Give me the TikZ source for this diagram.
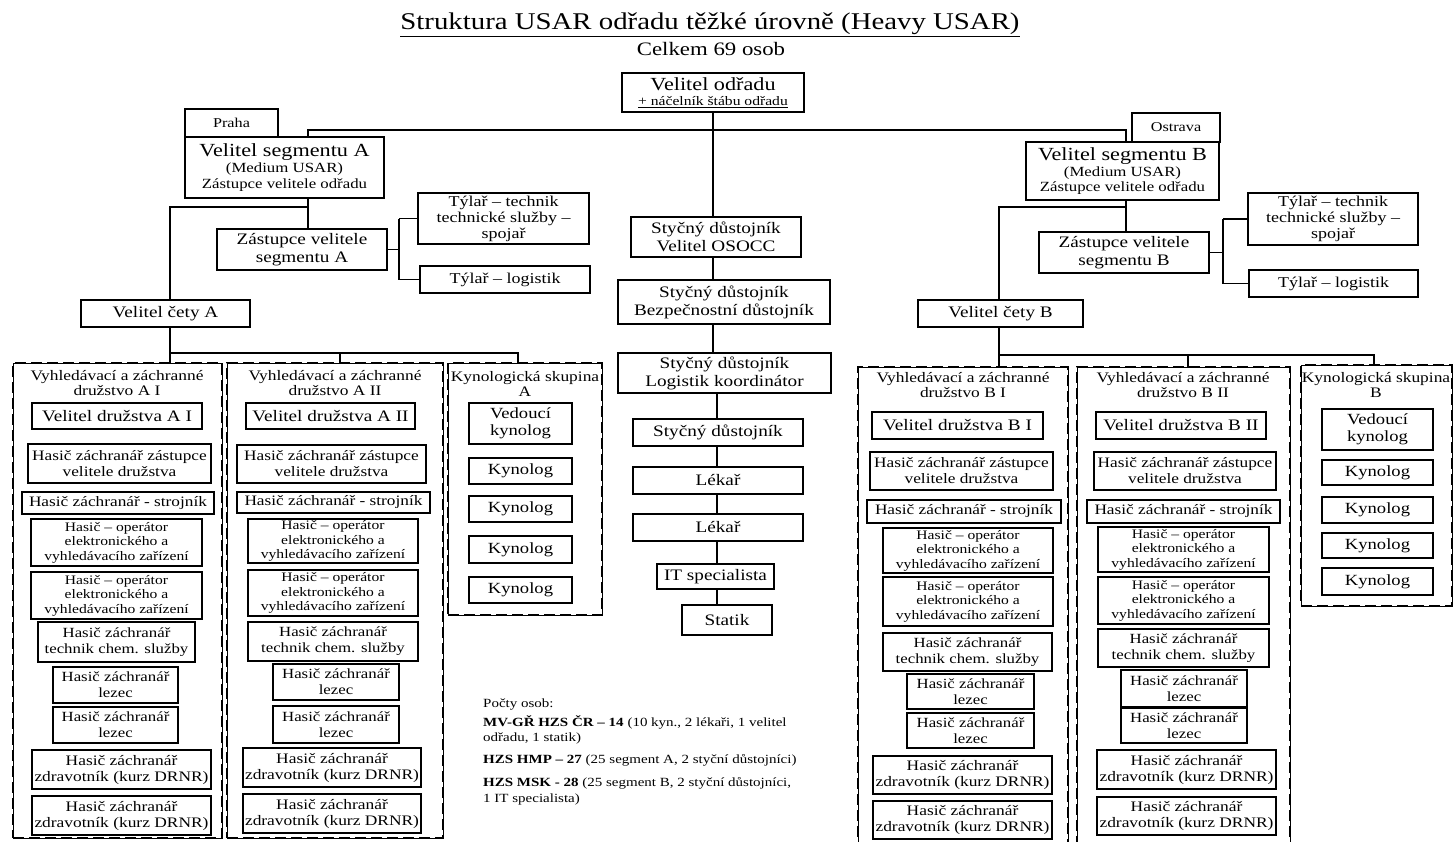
\documentclass[tikz,border=0pt]{standalone}
\usepackage{fontspec}
\setmainfont{Liberation Serif}[FakeStretch=1.2]
\newcommand{\myfs}[2]{\fontsize{#1}{#2}\selectfont}
\newcommand{\tZs}{Hasič záchranář zástupce\\velitele družstva}
\newcommand{\tSt}{Hasič záchranář - strojník}
\newcommand{\tOp}{Hasič – operátor\\elektronického a\\vyhledávacího zařízení}
\newcommand{\tTc}{Hasič záchranář\\technik chem. služby}
\newcommand{\tLz}{Hasič záchranář\\lezec}
\newcommand{\tZd}{Hasič záchranář\\zdravotník (kurz DRNR)}
% box by corners: style, x1, y1, x2, y2, name
\newcommand{\bx}[6]{\node[#1, minimum width={#4pt-#2pt}, minimum height={#5pt-#3pt}] (#6) at ({(#2+#4)/2},{(#3+#5)/2})}
\begin{document}
\begin{tikzpicture}[x=1pt,y=-1pt,
  box/.style={draw, line width=1.4pt, inner sep=0pt, outer sep=0pt, align=center},
  grp/.style={draw, line width=0.6pt, inner sep=0pt, outer sep=0pt,
    postaction={draw, line width=2.2pt, dash pattern=on 11pt off 5pt}},
  conn/.style={line width=1.7pt},
  lbl/.style={inner sep=0pt, align=center},
  sVd/.style={box, font=\myfs{16}{17}},
  sZs/.style={box, font=\myfs{14.4}{16}},
  sSt/.style={box, font=\myfs{14.4}{16}},
  sOp/.style={box, font=\myfs{13}{14.5}},
  sTc/.style={box, font=\myfs{14}{16}},
  sLz/.style={box, font=\myfs{14}{16}},
  sZd/.style={box, font=\myfs{14.5}{16}},
  sKy/.style={box, font=\myfs{15.5}{17}},
  sCt/.style={box, font=\myfs{16}{18}},
  sTy/.style={box, font=\myfs{15}{16}},
  sSm/.style={box, font=\myfs{13.5}{15}},
  sHdr/.style={lbl, font=\myfs{14.5}{15.5}},
  sLg/.style={anchor=base west, inner sep=0pt, font=\myfs{12.5}{15}}]
\fill[white] (0,0) rectangle (1453,841);
\useasboundingbox (0,0) rectangle (1453,841);

% title
\node[lbl, font=\myfs{24}{26}] (title) at (710,25) {\underline{Struktura USAR odřadu těžké úrovně (Heavy USAR)}};
\node[lbl, font=\myfs{19}{21}] (total) at (711,49) {Celkem 69 osob};

% top
\bx{box}{622}{73}{804}{112}{vo} {\myfs{18.5}{19}Velitel odřadu\\[3pt]\myfs{13}{13}\underline{+ náčelník štábu odřadu}};
\bx{sSm}{185}{109}{278}{137}{praha} {Praha};
\bx{box}{185}{137}{384}{198}{vsA} {\myfs{18.5}{19}Velitel segmentu A\\[1.5pt]\myfs{14}{15}(Medium USAR)\\[1.5pt]\myfs{14}{15}Zástupce velitele odřadu};
\bx{sSm}{1132}{113}{1220}{142}{ostrava} {Ostrava};
\bx{box}{1026}{142}{1219}{200}{vsB} {\myfs{18.5}{19}Velitel segmentu B\\[1.5pt]\myfs{14}{15}(Medium USAR)\\[1.5pt]\myfs{14}{15}Zástupce velitele odřadu};

% segment A staff
\bx{sCt}{217}{229}{387}{270}{zvA} {Zástupce velitele\\segmentu A};
\bx{sTy}{418}{193}{589}{244}{tyA1} {Týlař – technik\\technické služby –\\spojař};
\bx{sTy}{420}{266}{590}{293}{tyA2} {Týlař – logistik};
\bx{sVd}{81}{300}{250}{327}{vcA} {Velitel čety A};

% segment B staff
\bx{sCt}{1039}{232}{1209}{273}{zvB} {Zástupce velitele\\segmentu B};
\bx{sTy}{1248}{193}{1418}{245}{tyB1} {Týlař – technik\\technické služby –\\spojař};
\bx{sTy}{1249}{270}{1418}{297}{tyB2} {Týlař – logistik};
\bx{sVd}{918}{300}{1083}{327}{vcB} {Velitel čety B};

% centre chain
\bx{sCt}{631}{217}{801}{257}{osocc} {Styčný důstojník\\Velitel OSOCC};
\bx{sCt}{618}{280}{830}{324}{bezp} {Styčný důstojník\\Bezpečnostní důstojník};
\bx{sCt}{618}{353}{831}{393}{logk} {Styčný důstojník\\Logistik koordinátor};
\bx{sCt}{633}{419}{803}{446}{styc} {Styčný důstojník};
\bx{sCt}{633}{467}{803}{494}{lek1} {Lékař};
\bx{sCt}{633}{514}{803}{541}{lek2} {Lékař};
\bx{sCt}{657}{564}{774}{589}{itsp} {IT specialista};
\bx{sCt}{682}{605}{772}{635}{statik} {Statik};

% group A I
\bx{grp}{13}{363}{222}{838}{gA1} {};
\node[sHdr] (hA1) at (117,383) {Vyhledávací a záchranné\\družstvo A I};
\bx{sVd}{32}{403}{202}{429}{vdA1} {Velitel družstva A I};
\bx{sZs}{28}{444}{211}{483}{zsA1} {\tZs};
\bx{sSt}{22}{492}{214}{514}{stA1} {\tSt};
\bx{sOp}{31}{519}{202}{566}{opA1a} {\tOp};
\bx{sOp}{31}{572}{202}{619}{opA1b} {\tOp};
\bx{sTc}{38}{622}{195}{662}{tcA1} {\tTc};
\bx{sLz}{53}{667}{178}{703}{lzA1a} {\tLz};
\bx{sLz}{53}{707}{178}{743}{lzA1b} {\tLz};
\bx{sZd}{32}{750}{211}{789}{zdA1a} {\tZd};
\bx{sZd}{32}{796}{211}{835}{zdA1b} {\tZd};

% group A II
\bx{grp}{227}{363}{443}{838}{gA2} {};
\node[sHdr] (hA2) at (335,383) {Vyhledávací a záchranné\\družstvo A II};
\bx{sVd}{246}{403}{415}{429}{vdA2} {Velitel družstva A II};
\bx{sZs}{237}{445}{426}{483}{zsA2} {\tZs};
\bx{sSt}{237}{492}{430}{513}{stA2} {\tSt};
\bx{sOp}{248}{519}{418}{563}{opA2a} {\tOp};
\bx{sOp}{248}{570}{418}{616}{opA2b} {\tOp};
\bx{sTc}{248}{622}{418}{661}{tcA2} {\tTc};
\bx{sLz}{273}{664}{399}{700}{lzA2a} {\tLz};
\bx{sLz}{273}{706}{399}{743}{lzA2b} {\tLz};
\bx{sZd}{243}{748}{421}{787}{zdA2a} {\tZd};
\bx{sZd}{243}{794}{421}{833}{zdA2b} {\tZd};

% kynology A
\bx{grp}{448}{363}{602}{615}{gKA} {};
\node[sHdr] (hKA) at (525,384) {Kynologická skupina\\A};
\bx{sKy}{469}{403}{572}{444}{vkA} {Vedoucí\\kynolog};
\bx{sKy}{469}{458}{572}{484}{kA1} {Kynolog};
\bx{sKy}{469}{496}{572}{522}{kA2} {Kynolog};
\bx{sKy}{469}{536}{572}{563}{kA3} {Kynolog};
\bx{sKy}{469}{577}{572}{603}{kA4} {Kynolog};

% group B I
\bx{grp}{858}{367}{1068}{848}{gB1} {};
\node[sHdr] (hB1) at (963,385) {Vyhledávací a záchranné\\družstvo B I};
\bx{sVd}{872}{412}{1043}{439}{vdB1} {Velitel družstva B I};
\bx{sZs}{870}{452}{1053}{490}{zsB1} {\tZs};
\bx{sSt}{867}{500}{1061}{523}{stB1} {\tSt};
\bx{sOp}{883}{528}{1053}{573}{opB1a} {\tOp};
\bx{sOp}{883}{577}{1053}{626}{opB1b} {\tOp};
\bx{sTc}{883}{633}{1052}{671}{tcB1} {\tTc};
\bx{sLz}{907}{674}{1034}{709}{lzB1a} {\tLz};
\bx{sLz}{907}{713}{1034}{748}{lzB1b} {\tLz};
\bx{sZd}{873}{756}{1052}{794}{zdB1a} {\tZd};
\bx{sZd}{873}{801}{1052}{839}{zdB1b} {\tZd};

% group B II
\bx{grp}{1077}{367}{1290}{848}{gB2} {};
\node[sHdr] (hB2) at (1183,385) {Vyhledávací a záchranné\\družstvo B II};
\bx{sVd}{1096}{412}{1266}{439}{vdB2} {Velitel družstva B II};
\bx{sZs}{1094}{452}{1276}{490}{zsB2} {\tZs};
\bx{sSt}{1087}{500}{1280}{523}{stB2} {\tSt};
\bx{sOp}{1098}{527}{1269}{572}{opB2a} {\tOp};
\bx{sOp}{1098}{577}{1269}{624}{opB2b} {\tOp};
\bx{sTc}{1098}{629}{1269}{667}{tcB2} {\tTc};
\bx{sLz}{1121}{670}{1247}{707}{lzB2a} {\tLz};
\bx{sLz}{1121}{708}{1247}{743}{lzB2b} {\tLz};
\bx{sZd}{1097}{750}{1276}{789}{zdB2a} {\tZd};
\bx{sZd}{1097}{797}{1276}{835}{zdB2b} {\tZd};

% kynology B
\bx{grp}{1301}{365}{1452}{606}{gKB} {};
\node[sHdr] (hKB) at (1376,385) {Kynologická skupina\\B};
\bx{sKy}{1322}{409}{1433}{450}{vkB} {Vedoucí\\kynolog};
\bx{sKy}{1322}{460}{1433}{485}{kB1} {Kynolog};
\bx{sKy}{1322}{497}{1433}{523}{kB2} {Kynolog};
\bx{sKy}{1322}{533}{1433}{558}{kB3} {Kynolog};
\bx{sKy}{1322}{568}{1433}{595}{kB4} {Kynolog};

% legend
\node[sLg] (lg0) at (483,707) {Počty osob:};
\node[sLg] (lg1) at (483,726) {\textbf{MV-GŘ HZS ČR – 14} (10 kyn., 2 lékaři, 1 velitel};
\node[sLg] (lg2) at (483,741) {odřadu, 1 statik)};
\node[sLg] (lg3) at (483,763) {\textbf{HZS HMP – 27} (25 segment A, 2 styční důstojníci)};
\node[sLg] (lg4) at (483,786) {\textbf{HZS MSK - 28} (25 segment B, 2 styční důstojníci,};
\node[sLg] (lg5) at (483,802) {1 IT specialista)};

% connector coordinates
\coordinate (topL) at (308,130);
\coordinate (topR) at (1126,130);
\coordinate (sA) at (308,207);
\coordinate (aL) at (170,207);
\coordinate (tA) at (399,0);
\coordinate (busA1) at (170,353);
\coordinate (busA2) at (340,353);
\coordinate (busA3) at (518,353);
\coordinate (sB) at (1126,207);
\coordinate (bL) at (999,207);
\coordinate (tB) at (1223,0);
\coordinate (busB1) at (999,355);
\coordinate (busB2) at (1188,355);
\coordinate (busB3) at (1374,355);
\coordinate (cx) at (717,0);

% connectors: top
\draw[conn] (vo.south) -- (vo.south |- osocc.north);
\draw[conn] (vsA.north -| topL) -- (topL) -- (topR) -- (vsB.north -| topR);
% segment A
\draw[conn] (vsA.south -| sA) -- (zvA.north -| sA);
\draw[conn] (sA) -- (aL) -- (vcA.north -| aL);
\draw[conn] (zvA.east) -- (zvA.east -| tA);
\draw[conn] (tyA1.west -| tA) -- (tyA2.west -| tA);
\draw[conn] (tyA1.west -| tA) -- (tyA1.west);
\draw[conn] (tyA2.west -| tA) -- (tyA2.west);
\draw[conn] (vcA.south -| busA1) -- (gA1.north -| busA1);
\draw[conn] (busA1) -- (busA3) -- (gKA.north -| busA3);
\draw[conn] (busA2) -- (gA2.north -| busA2);
% segment B
\draw[conn] (vsB.south -| sB) -- (zvB.north -| sB);
\draw[conn] (sB) -- (bL) -- (vcB.north -| bL);
\draw[conn] (zvB.east) -- (zvB.east -| tB);
\draw[conn] (tyB1.west -| tB) -- (tyB2.west -| tB);
\draw[conn] (tyB1.west -| tB) -- (tyB1.west);
\draw[conn] (tyB2.west -| tB) -- (tyB2.west);
\draw[conn] (vcB.south -| busB1) -- (gB1.north -| busB1);
\draw[conn] (busB1) -- (busB3) -- (gKB.north -| busB3);
\draw[conn] (busB2) -- (gB2.north -| busB2);
% centre chain
\draw[conn] (osocc.south -| vo.south) -- (bezp.north -| vo.south);
\draw[conn] (bezp.south -| vo.south) -- (logk.north -| vo.south);
\draw[conn] (logk.south -| cx) -- (styc.north -| cx);
\draw[conn] (styc.south -| cx) -- (lek1.north -| cx);
\draw[conn] (lek1.south -| cx) -- (lek2.north -| cx);
\draw[conn] (lek2.south -| cx) -- (itsp.north -| cx);
\draw[conn] (itsp.south -| cx) -- (statik.north -| cx);
\end{tikzpicture}
\end{document}
